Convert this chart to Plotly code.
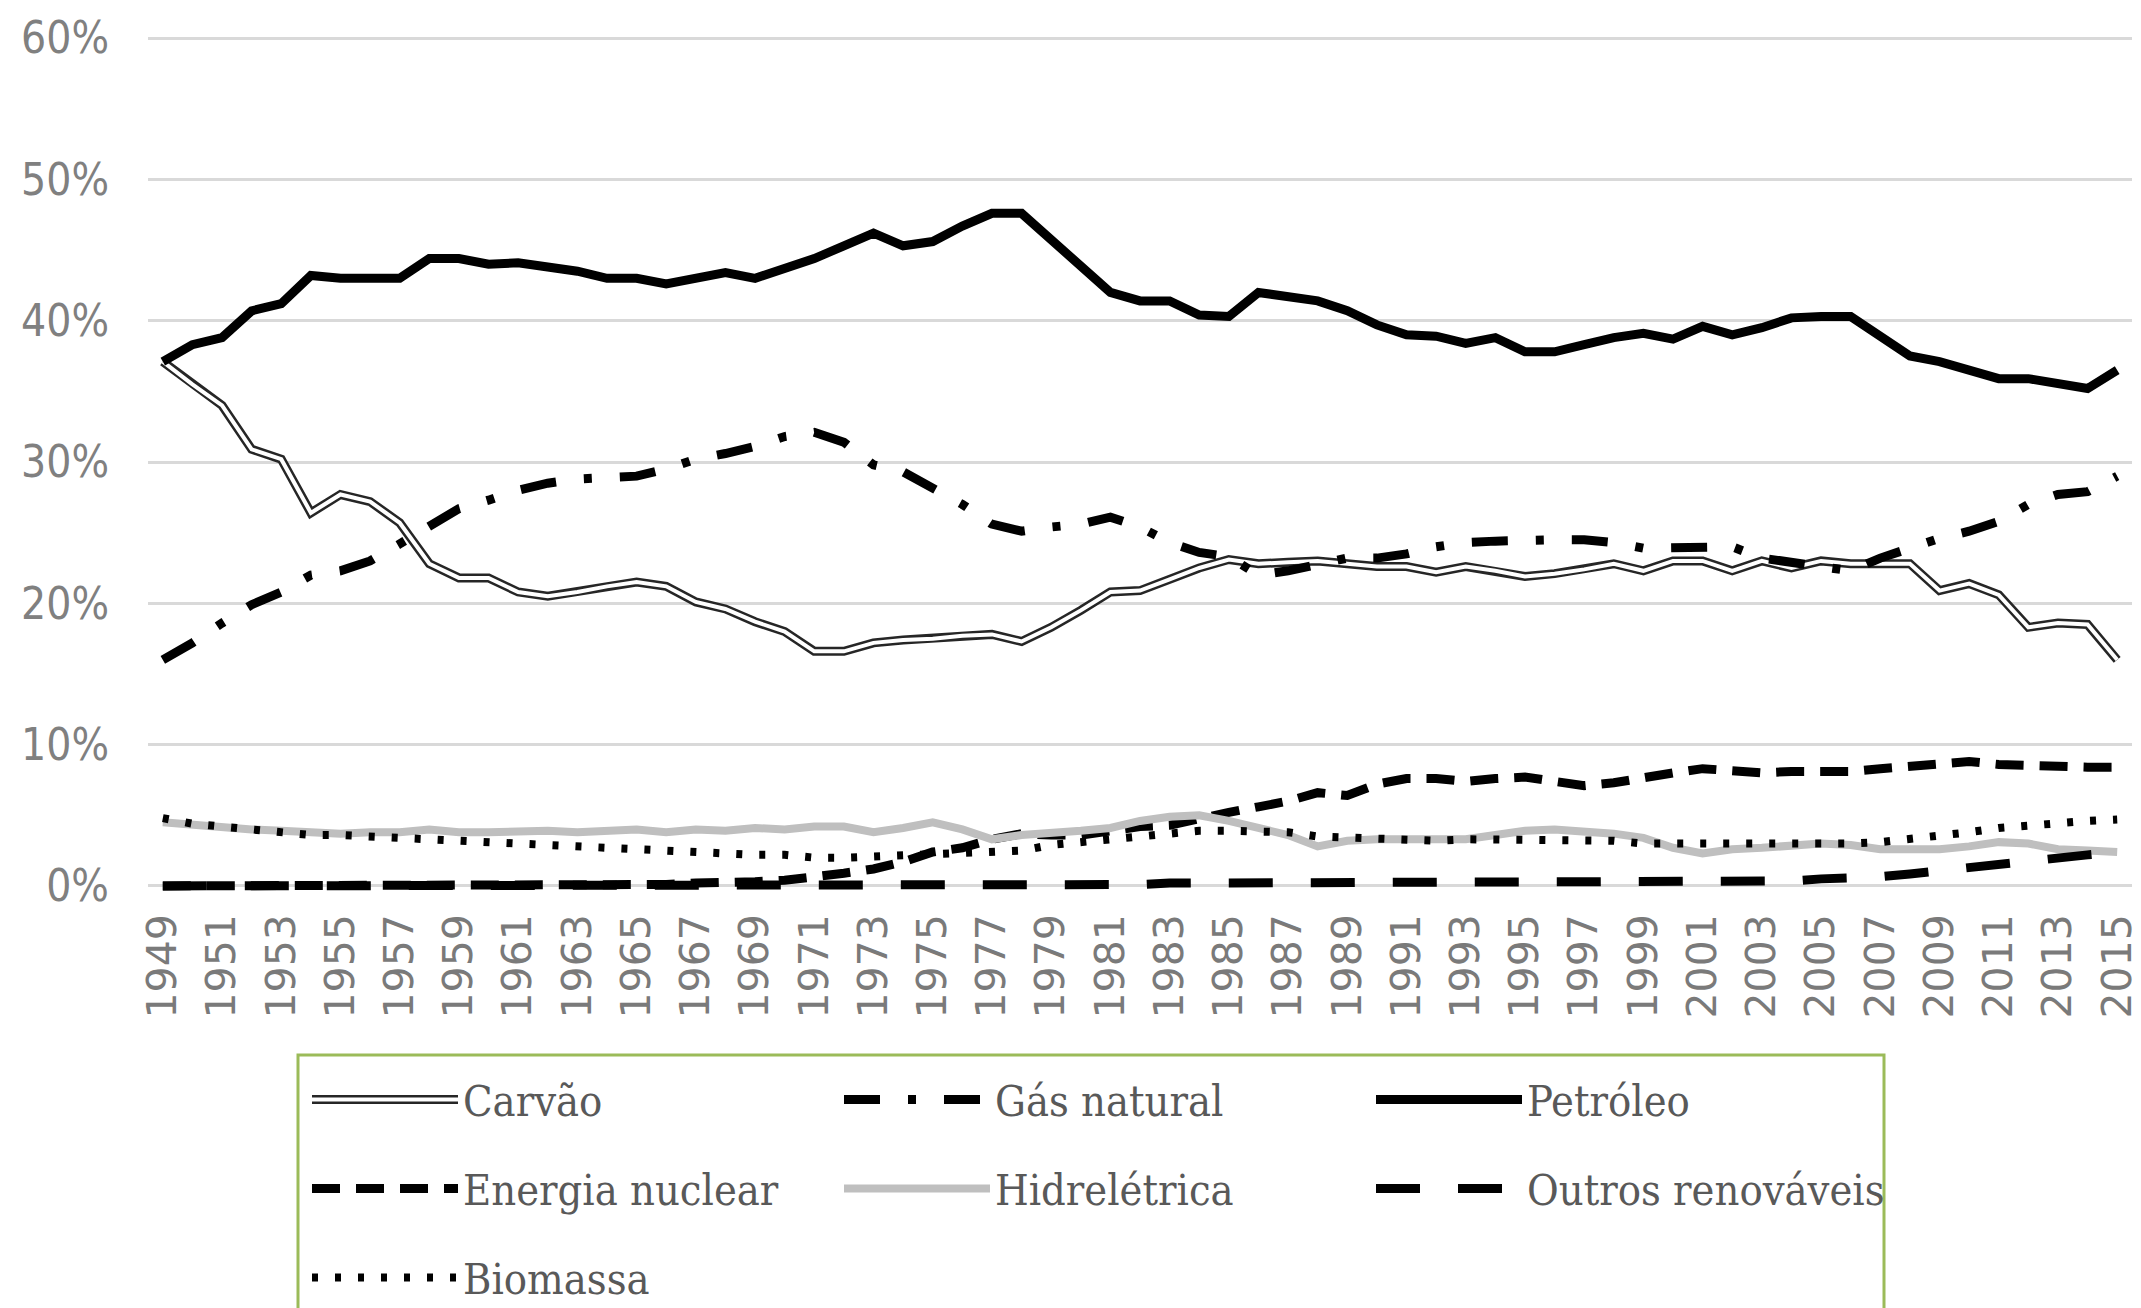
import plotly.graph_objects as go

years = [str(y) for y in range(1949, 2016)]

carvao = [37.1, 35.5, 34.0, 30.9, 30.2, 26.4, 27.7, 27.2, 25.7, 22.8, 21.8, 21.8, 20.8, 20.5, 20.8, 21.2, 21.5,
          21.2, 20.1, 19.6, 18.7, 18.0, 16.6, 16.6, 17.2, 17.4, 17.5, 17.7, 17.8, 17.3, 18.3, 19.5, 20.8, 20.9,
          21.7, 22.5, 23.1, 22.8, 22.9, 23.0, 22.8, 22.6, 22.6, 22.2, 22.6, 22.3, 21.9, 22.1, 22.4, 22.8, 22.3,
          23.0, 23.0, 22.3, 23.0, 22.5, 23.0, 22.8, 22.8, 22.8, 20.9, 21.4, 20.6, 18.3, 18.6, 18.5, 16.0]
gas_natural = [16.0, 17.2, 18.6, 19.9, 20.8, 22.0, 22.3, 23.0, 24.2, 25.5, 26.7, 27.3, 28.0, 28.5, 28.8, 28.9, 29.0,
               29.5, 30.2, 30.6, 31.1, 31.8, 32.1, 31.4, 29.8, 29.3, 28.2, 27.0, 25.6, 25.1, 25.4, 25.6, 26.1,
               25.4, 24.3, 23.6, 23.3, 22.0, 22.3, 22.8, 23.2, 23.2, 23.5, 24.0, 24.3, 24.4, 24.5, 24.5, 24.5,
               24.3, 23.9, 23.9, 23.9, 24.0, 23.2, 22.9, 22.7, 22.3, 23.2, 23.9, 24.6, 25.1, 25.8, 27.0, 27.7,
               27.9, 29.0]
petroleo = [37.1, 38.3, 38.8, 40.7, 41.2, 43.2, 43.0, 43.0, 43.0, 44.4, 44.4, 44.0, 44.1, 43.8, 43.5, 43.0, 43.0,
            42.6, 43.0, 43.4, 43.0, 43.7, 44.4, 45.3, 46.2, 45.3, 45.6, 46.7, 47.6, 47.6, 45.8, 44.0, 42.0, 41.4,
            41.4, 40.4, 40.3, 42.0, 41.7, 41.4, 40.7, 39.7, 39.0, 38.9, 38.4, 38.8, 37.8, 37.8, 38.3, 38.8, 39.1,
            38.7, 39.6, 39.0, 39.5, 40.2, 40.3, 40.3, 38.9, 37.5, 37.1, 36.5, 35.9, 35.9, 35.5, 35.2, 36.5]
nuclear = [0.0, 0.0, 0.0, 0.0, 0.0, 0.0, 0.0, 0.0, 0.0, 0.0, 0.0, 0.0, 0.0, 0.0, 0.0, 0.1, 0.1,
           0.1, 0.2, 0.2, 0.3, 0.4, 0.6, 0.9, 1.2, 1.7, 2.4, 2.7, 3.3, 3.7, 3.6, 3.6, 3.9, 4.2,
           4.3, 4.8, 5.2, 5.6, 6.0, 6.6, 6.4, 7.2, 7.6, 7.6, 7.4, 7.6, 7.7, 7.4, 7.1, 7.3, 7.7,
           8.0, 8.3, 8.2, 8.0, 8.1, 8.1, 8.1, 8.3, 8.5, 8.7, 8.8, 8.6, 8.5, 8.4, 8.4, 8.4]
hidreletrica = [4.5, 4.3, 4.1, 4.0, 3.9, 3.8, 3.7, 3.8, 3.8, 4.0, 3.8, 3.8, 3.9, 3.9, 3.8, 3.9, 4.0,
                3.8, 4.0, 3.9, 4.1, 4.0, 4.2, 4.2, 3.8, 4.1, 4.5, 4.0, 3.3, 3.6, 3.7, 3.9, 4.1, 4.6,
                4.9, 5.0, 4.6, 4.1, 3.6, 2.8, 3.2, 3.3, 3.3, 3.2, 3.3, 3.6, 3.9, 4.0, 3.9, 3.7, 3.4,
                2.7, 2.3, 2.6, 2.7, 2.8, 3.0, 2.9, 2.6, 2.6, 2.6, 2.8, 3.1, 3.0, 2.6, 2.5, 2.4]
outros = [0.0, 0.0, 0.0, 0.0, 0.0, 0.0, 0.0, 0.0, 0.0, 0.0, 0.0, 0.0, 0.0, 0.0, 0.0, 0.0, 0.0,
          0.0, 0.0, 0.0, 0.0, 0.0, 0.0, 0.1, 0.1, 0.1, 0.1, 0.1, 0.1, 0.1, 0.1, 0.1, 0.1, 0.1,
          0.2, 0.2, 0.3, 0.3, 0.3, 0.3, 0.3, 0.3, 0.3, 0.3, 0.3, 0.3, 0.3, 0.3, 0.3, 0.3, 0.3,
          0.3, 0.3, 0.3, 0.3, 0.35, 0.5, 0.55, 0.65, 0.85, 1.1, 1.3, 1.5, 1.7, 2.0, 2.2, 2.4]
biomassa = [4.8, 4.4, 4.2, 4.0, 3.8, 3.6, 3.6, 3.5, 3.3, 3.2, 3.1, 3.0, 2.9, 2.8, 2.7, 2.6, 2.6,
            2.5, 2.4, 2.3, 2.2, 2.2, 2.0, 2.0, 2.1, 2.2, 2.3, 2.3, 2.4, 2.5, 2.9, 3.1, 3.3, 3.6,
            3.8, 3.9, 3.9, 3.8, 3.8, 3.5, 3.4, 3.3, 3.2, 3.2, 3.3, 3.3, 3.3, 3.3, 3.3, 3.2, 3.0,
            3.0, 2.9, 2.9, 2.9, 2.9, 3.0, 3.0, 3.1, 3.3, 3.6, 3.8, 4.1, 4.3, 4.4, 4.6, 4.7]

tick_years = years[::2]
y_ticks = [0, 10, 20, 30, 40, 50, 60]

# page body adds an 8px margin, so the figure is 8px smaller than the window
W, H = 2133, 1300
ML, MR, MT, MB = 140, 9, 23, 415
PW = W - ML - MR
PH = H - MT - MB

LEG_FONT = dict(family="DejaVu Serif Condensed, DejaVu Serif, serif", size=43, color="#595959")


def leg(x_px, y_px):
    return dict(orientation="h", xref="container", yref="container",
                x=x_px / W, y=1 - y_px / H, xanchor="left", yanchor="top",
                font=LEG_FONT, bgcolor="rgba(0,0,0,0)", borderwidth=0,
                itemwidth=146, entrywidth=371, traceorder="normal",
                itemclick=False, itemdoubleclick=False)


fig = go.Figure()
fig.add_trace(go.Scatter(x=years, y=carvao, name="Carvão", mode="lines",
                         line=dict(color="#262626", width=9), legend="legend"))
fig.add_trace(go.Scatter(x=years, y=carvao, name=" ", mode="lines",
                         line=dict(color="#ffffff", width=4), legend="legend4"))
fig.add_trace(go.Scatter(x=years, y=gas_natural, name="Gás natural", mode="lines",
                         line=dict(color="#000000", width=9, dash="36px,28px,8px,28px"), legend="legend"))
fig.add_trace(go.Scatter(x=years, y=petroleo, name="Petróleo", mode="lines",
                         line=dict(color="#000000", width=9), legend="legend"))
fig.add_trace(go.Scatter(x=years, y=nuclear, name="Energia nuclear", mode="lines",
                         line=dict(color="#000000", width=9, dash="28px,16px"), legend="legend2"))
fig.add_trace(go.Scatter(x=years, y=hidreletrica, name="Hidrelétrica", mode="lines",
                         line=dict(color="#bfbfbf", width=8), legend="legend2"))
fig.add_trace(go.Scatter(x=years, y=outros, name="Outros renováveis", mode="lines",
                         line=dict(color="#000000", width=9, dash="44px,38px"), legend="legend2"))
fig.add_trace(go.Scatter(x=years, y=biomassa, name="Biomassa", mode="lines",
                         line=dict(color="#000000", width=8, dash="6px,17px"), legend="legend3"))

fig.update_layout(
    width=W, height=H,
    margin=dict(l=ML, r=MR, t=MT, b=MB, autoexpand=False),
    paper_bgcolor="white", plot_bgcolor="white",
    showlegend=True,
    legend=leg(299, 1057),
    legend2=leg(299, 1146),
    legend3=leg(299, 1235),
    legend4=leg(299, 1057),
    xaxis=dict(type="category", range=[-0.5, len(years) - 0.5], tickmode="array",
               tickvals=tick_years, ticktext=tick_years, tickangle=-90,
               tickfont=dict(family="DejaVu Sans, sans-serif", size=41, color="#7a7a7a"),
               showgrid=False, showline=False, zeroline=False, ticks="",
               ticklabelstandoff=12),
    yaxis=dict(range=[-0.5, 60.5], tickmode="array", tickvals=y_ticks,
               ticktext=[f"{v}%" for v in y_ticks],
               tickfont=dict(family="DejaVu Sans Condensed, Liberation Sans Narrow, sans-serif",
                             size=44, color="#808080"),
               showgrid=True, gridcolor="#d9d9d9", gridwidth=3,
               zeroline=False, showline=False, ticks="", ticklabelstandoff=38),
    shapes=[dict(type="rect", xref="paper", yref="paper",
                 x0=(290 - ML) / PW, x1=(1876 - ML) / PW,
                 y0=(H - MB - 1047) / PH, y1=(H - MB - 1315) / PH,
                 line=dict(color="#9bbb59", width=3), fillcolor="rgba(0,0,0,0)", layer="above")],
)

fig.write_html("out.html")
